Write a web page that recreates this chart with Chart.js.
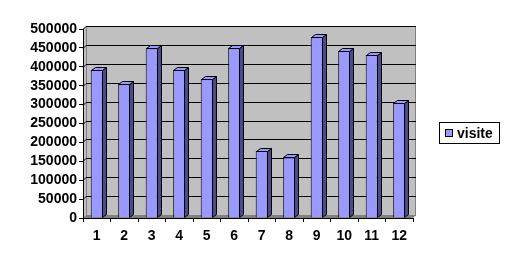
<!DOCTYPE html>
<html>
<head>
<meta charset="utf-8">
<script src="https://cdn.jsdelivr.net/npm/chart.js@4.4.0/dist/chart.umd.min.js"></script>
<style>
  html, body { margin: 0; padding: 0; background: #fff; }
  canvas { display: block; }
</style>
</head>
<body>
<canvas id="chart" width="509" height="264"></canvas>
<script>
// data
var months = ["1", "2", "3", "4", "5", "6", "7", "8", "9", "10", "11", "12"];
var visite = [392000, 354000, 449000, 392000, 367000, 449000, 177000, 161000, 478000, 442000, 431000, 304000];
var yMax = 500000;
var yStep = 50000;

var WALL = 3;   // depth of the back wall
var BAR_DX = 4; // depth of the bars
var BAR_DY = 3;

// gray back wall, side wall and floor, like the old 3d column chart
var wall3d = {
    id: "wall3d",
    beforeDraw: function (chart) {
        var ctx = chart.ctx;
        var a = chart.chartArea;
        var y = chart.scales.y;
        var l = a.left, r = a.right, t = a.top, b = a.bottom;
        ctx.save();
        // side wall
        ctx.fillStyle = "#c0c0c0";
        ctx.beginPath();
        ctx.moveTo(l, t); ctx.lineTo(l + WALL, t - WALL);
        ctx.lineTo(l + WALL, b - WALL); ctx.lineTo(l, b);
        ctx.closePath(); ctx.fill();
        // back wall
        ctx.fillRect(l + WALL, t - WALL, r - l, b - t);
        ctx.strokeStyle = "#808080";
        ctx.lineWidth = 1;
        ctx.strokeRect(l + WALL + 0.5, t - WALL + 0.5, r - l - 1, b - t);
        // floor
        ctx.fillStyle = "#808080";
        ctx.beginPath();
        ctx.moveTo(l, b); ctx.lineTo(l + WALL, b - WALL);
        ctx.lineTo(r + WALL, b - WALL); ctx.lineTo(r, b);
        ctx.closePath(); ctx.fill();
        // grid lines on the back wall
        ctx.strokeStyle = "#000";
        y.ticks.forEach(function (tk) {
            if (tk.value === 0) return;
            var py = Math.round(y.getPixelForValue(tk.value)) + 0.5;
            ctx.beginPath();
            ctx.moveTo(l, py);
            ctx.lineTo(l + WALL, py - WALL);
            ctx.lineTo(r + WALL, py - WALL);
            ctx.stroke();
        });
        ctx.restore();
    },
    afterDatasetsDraw: function (chart) {
        var ctx = chart.ctx;
        var meta = chart.getDatasetMeta(0);
        ctx.save();
        ctx.lineWidth = 1;
        ctx.strokeStyle = "#000";
        meta.data.forEach(function (bar) {
            var p = bar.getProps(["x", "y", "base", "width"], true);
            var l = Math.round(p.x - p.width / 2) + 0.5;
            var r = Math.round(p.x + p.width / 2) - 0.5;
            var t = Math.round(p.y) + 0.5;
            var b = Math.round(p.base) - 0.5;
            // side
            ctx.fillStyle = "#4b4b8c";
            ctx.beginPath();
            ctx.moveTo(r, t); ctx.lineTo(r + BAR_DX, t - BAR_DY);
            ctx.lineTo(r + BAR_DX, b - BAR_DY); ctx.lineTo(r, b);
            ctx.closePath(); ctx.fill(); ctx.stroke();
            // top
            ctx.fillStyle = "#9999ff";
            ctx.beginPath();
            ctx.moveTo(l, t); ctx.lineTo(l + BAR_DX, t - BAR_DY);
            ctx.lineTo(r + BAR_DX, t - BAR_DY); ctx.lineTo(r, t);
            ctx.closePath(); ctx.fill(); ctx.stroke();
        });
        ctx.restore();
    },
    afterDraw: function (chart) {
        // boxed legend on the right
        var ctx = chart.ctx;
        var ds = chart.data.datasets[0];
        ctx.save();
        ctx.strokeStyle = "#000";
        ctx.lineWidth = 1;
        ctx.strokeRect(439.5, 122.5, 60, 21);
        ctx.fillStyle = ds.backgroundColor;
        ctx.fillRect(445, 129, 8, 8);
        ctx.strokeRect(445.5, 129.5, 7, 7);
        ctx.fillStyle = "#000";
        ctx.font = "bold 14px Arial, 'Liberation Sans', sans-serif";
        ctx.textBaseline = "alphabetic";
        ctx.fillText(ds.label, 457, 138);
        ctx.restore();
    }
};

Chart.defaults.font.family = "Arial, 'Liberation Sans', sans-serif";
Chart.defaults.font.size = 14;
Chart.defaults.font.weight = "bold";
Chart.defaults.color = "#000";

var ctx = document.getElementById("chart").getContext("2d");
var chart = new Chart(ctx, {
    type: "bar",
    data: {
        labels: months,
        datasets: [
            {
                label: "visite",
                data: visite,
                backgroundColor: "#9999ff",
                borderColor: "#000",
                borderWidth: 1,
                barPercentage: 0.44,
                categoryPercentage: 1.0,
            },
        ],
    },
    options: {
        responsive: false,
        animation: false,
        layout: { padding: { left: 0, top: 29, right: 96, bottom: 0 } },
        plugins: {
            legend: { display: false },
            tooltip: { enabled: false },
        },
        scales: {
            x: {
                grid: {
                    offset: true,
                    drawOnChartArea: false,
                    drawTicks: true,
                    tickLength: 4,
                    color: "#000",
                },
                border: { display: true, color: "#000" },
                ticks: { padding: 6, maxRotation: 0, autoSkip: false },
                afterFit: function (scale) { scale.height = 46; },
            },
            y: {
                min: 0,
                max: yMax,
                ticks: {
                    stepSize: yStep,
                    padding: 2,
                    autoSkip: false,
                    callback: function (v) { return String(v); },
                },
                grid: {
                    drawOnChartArea: false,
                    drawTicks: true,
                    tickLength: 4,
                    color: "#000",
                },
                border: { display: true, color: "#000" },
                afterFit: function (scale) { scale.width = 83; },
            },
        },
    },
    plugins: [wall3d],
});
</script>
</body>
</html>
